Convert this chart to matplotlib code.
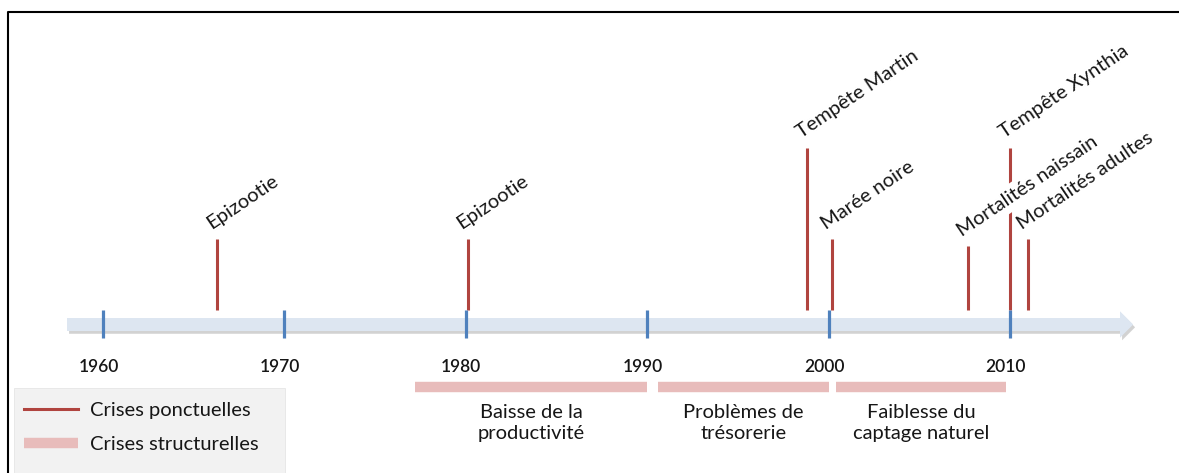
import matplotlib.pyplot as plt
import matplotlib.patheffects as pe
from matplotlib.patches import FancyArrow, Rectangle
from matplotlib.lines import Line2D

plt.rcParams['font.family'] = ['Lato', 'DejaVu Sans']

# données
decades = [1960, 1970, 1980, 1990, 2000, 2010]

events = ['Epizootie', 'Epizootie', 'Tempête Martin', 'Marée noire',
          'Mortalités naissain', 'Tempête Xynthia', 'Mortalités adultes']
event_years = [1966.3, 1980.1, 1998.8, 2000.2, 2007.7, 2010.0, 2011.0]
event_heights = [71, 71, 162, 71, 64, 162, 71]

periods = ['Baisse de la\nproductivité', 'Problèmes de\ntrésorerie',
           'Faiblesse du\ncaptage naturel']
period_start = [1977.2, 1990.6, 2000.4]
period_end = [1990.0, 2000.0, 2009.8]

RED = '#b0443f'
PINK = '#e8bcbb'
BLUE = '#4f81bd'
TXT = '#161616'
FS = 14.5
W, H = 1179, 473
PPY = 18.14          # pixels par an
X0 = 1960 - 103 / PPY
BASE = 310           # bas des traits (px)


def px(x):
    return X0 + x / PPY


fig = plt.figure(figsize=(W / 100, H / 100), dpi=100)
ax = fig.add_axes([0, 0, 1, 1])
ax.set_xlim(X0, X0 + W / PPY)
ax.set_ylim(H, 0)
ax.axis('off')

# cadre
fig.add_artist(Line2D([8 / W, 8 / W, 1], [0, 1 - 12 / H, 1 - 12 / H],
                      color='black', lw=1.5))

# axe du temps (flèche)
arrow = FancyArrow(px(67), 324.5, px(1133) - px(67), 0, width=13,
                   head_width=26, head_length=13 / PPY,
                   length_includes_head=True, fc='#dde6f1', ec='none', zorder=1,
                   path_effects=[pe.withSimplePatchShadow(offset=(1.5, -2),
                                                          shadow_rgbFace='#7f7f7f',
                                                          alpha=0.35),
                                 pe.Normal()])
ax.add_patch(arrow)

ax.vlines(decades, BASE, 338, color=BLUE, lw=2.3, zorder=3)
for d in decades:
    ax.text(d - 0.25, 367, str(d), ha='center', va='center', fontsize=12.5,
            fontweight='semibold', color=TXT)

# crises ponctuelles
tops = [BASE - h for h in event_heights]
ax.vlines(event_years, tops, BASE, color=RED, lw=2.2, zorder=2)
for name, yr, top in zip(events, event_years, tops):
    kw = {}
    if name == 'Mortalités naissain':
        kw['bbox'] = dict(fc='white', ec='none', pad=3)
    ax.annotate(name, xy=(yr, top), xytext=(-4.3, 6.5),
                textcoords='offset points', rotation=34,
                rotation_mode='anchor', ha='left', va='baseline',
                fontsize=FS, color=TXT, zorder=4, **kw)

# crises structurelles
for name, s, e in zip(periods, period_start, period_end):
    ax.plot([s, e], [387, 387], color=PINK, lw=7.5, solid_capstyle='butt')
    ax.text((s + e) / 2, 423, name, ha='center', va='center',
            fontsize=FS, linespacing=1.25, color=TXT)

# légende
ax.add_patch(Rectangle((px(14), 388), px(285) - px(14), 100,
                       fc='#f2f2f2', ec='#e6e6e6', lw=0.6, zorder=1))
handles = [Line2D([], [], color=RED, lw=2.2),
           Line2D([], [], color=PINK, lw=7.5, solid_capstyle='butt')]
ax.legend(handles, ['Crises ponctuelles', 'Crises structurelles'],
          loc='upper left', bbox_to_anchor=(24 / W, 1 - 402 / H),
          frameon=False, borderpad=0, borderaxespad=0, fontsize=FS,
          handlelength=2.7, handletextpad=0.6, labelspacing=0.85,
          labelcolor=TXT)

fig.savefig('out.png', dpi=100)
